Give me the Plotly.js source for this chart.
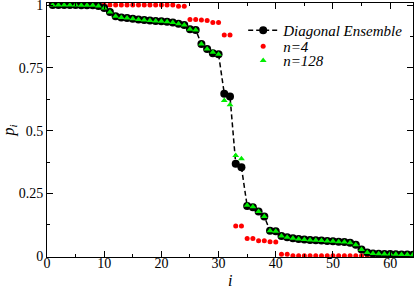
<!DOCTYPE html>
<html>
<head>
<meta charset="utf-8">
<script src="https://cdn.plot.ly/plotly-3.0.1.min.js"></script>
<style>
html,body{margin:0;padding:0;background:#fff;}
#chart{width:415px;height:288px;}
</style>
</head>
<body>
<div id="chart"></div>
<script>
var idx = [1,2,3,4,5,6,7,8,9,10,11,12,13,14,15,16,17,18,19,20,21,22,23,24,25,26,27,28,29,30,31,32,
           33,34,35,36,37,38,39,40,41,42,43,44,45,46,47,48,49,50,51,52,53,54,55,56,57,58,59,60,61,62,63,64];

var diagEns = [1.0,1.0,1.0,1.0,1.0,0.999,0.999,0.999,0.996,0.988,0.972,0.955,0.950,0.948,0.945,0.942,
               0.940,0.938,0.936,0.935,0.933,0.930,0.925,0.920,0.904,0.901,0.845,0.825,0.808,0.804,0.647,0.636,
               0.368,0.354,0.200,0.195,0.178,0.158,0.101,0.099,0.081,0.076,0.072,0.069,0.067,0.065,0.064,0.063,
               0.061,0.060,0.058,0.057,0.054,0.046,0.027,0.015,0.011,0.010,0.009,0.009,0.008,0.007,0.007,0.006];

var n4 = [1.0,1.0,1.0,1.0,1.0,1.0,1.0,1.0,1.0,1.0,1.0,1.0,1.0,1.0,1.0,1.0,
          1.0,1.0,1.0,1.0,1.0,1.0,0.995,0.995,0.942,0.942,0.940,0.938,0.930,0.930,0.881,0.881,
          0.120,0.120,0.071,0.071,0.062,0.062,0.058,0.057,0.008,0.008,0.002,0.002,0.002,0.002,0.002,0.002,
          0.002,0.002,0.002,0.002,0.002,0.002,0.002,0.002,0.002,0.002,0.002,0.002,0.002,0.002,0.002,0.002];

var n128 = [1.0,1.0,1.0,1.0,1.0,0.999,0.999,0.999,0.996,0.988,0.972,0.955,0.950,0.948,0.945,0.942,
            0.940,0.938,0.936,0.935,0.933,0.930,0.925,0.920,0.904,0.901,0.845,0.825,0.812,0.804,0.620,0.603,
            0.401,0.388,0.203,0.197,0.178,0.158,0.101,0.099,0.081,0.076,0.072,0.069,0.067,0.065,0.064,0.063,
            0.061,0.060,0.058,0.057,0.054,0.046,0.027,0.015,0.011,0.010,0.009,0.009,0.008,0.007,0.007,0.006];

var xTickVals = [0,10,20,30,40,50,60];
var yTickVals = [0,0.25,0.5,0.75,1];
var yTickText = ['0','0.25','0.5','0.75','1'];
var xTitle = '<i>i</i>';
var yTitle = '<i>p<sub>i</sub></i>';

var FAM = 'Liberation Serif';

var traces = [
  {x: idx, y: n4, type: 'scatter', mode: 'markers', name: '<i>n=4</i>',
   marker: {color: '#ff0000', size: 5}, legend: 'legend2'},
  {x: idx, y: diagEns, type: 'scatter', mode: 'lines+markers', name: '<i>Diagonal Ensemble</i>',
   line: {color: '#000000', width: 1.5, dash: '5px,3px'},
   marker: {color: '#000000', size: 8}, legend: 'legend'},
  {x: idx, y: n128, type: 'scatter', mode: 'markers', name: '<i>n=128</i>',
   marker: {color: '#00ee00', size: 6, symbol: 'triangle-up'}, legend: 'legend3'}
];

function leg(yv) {
  return {x: 0.536, y: yv, xref: 'paper', yref: 'paper', xanchor: 'left', yanchor: 'top',
    bgcolor: 'rgba(0,0,0,0)', borderwidth: 0, itemwidth: 30,
    font: {family: FAM, size: 15, color: '#000000'}};
}

var layout = {
  width: 415, height: 288,
  margin: {l: 47, r: 2, t: 3, b: 31},
  font: {family: FAM, size: 14, color: '#000000'},
  xaxis: {
    range: [0, 64], tickvals: xTickVals, ticks: 'inside', ticklen: 6, tickwidth: 1,
    tickcolor: '#000000', showline: true, linecolor: '#000000', linewidth: 1, mirror: 'allticks',
    showgrid: false, zeroline: false, ticklabelstandoff: -7,
    minor: {dtick: 5, tick0: 0, ticks: 'inside', ticklen: 3, tickcolor: '#000000', showgrid: false},
    tickfont: {family: FAM, size: 14, color: '#000000'}
  },
  yaxis: {
    range: [-0.003, 1.008], tickvals: yTickVals, ticktext: yTickText, ticks: 'inside', ticklen: 6,
    tickwidth: 1, tickcolor: '#000000', showline: true, linecolor: '#000000', linewidth: 1, mirror: 'allticks',
    showgrid: false, zeroline: false, ticklabeloverflow: 'allow',
    minor: {tickvals: [0.125,0.375,0.625,0.875], ticks: 'inside', ticklen: 3, tickcolor: '#000000', showgrid: false},
    tickfont: {family: FAM, size: 14, color: '#000000'},
    title: {text: yTitle, font: {family: FAM, size: 16, color: '#000000'}, standoff: 4}
  },
  annotations: [
    {text: xTitle, xref: 'paper', yref: 'paper', x: 0.5, y: -0.094, xanchor: 'center', yanchor: 'middle',
     showarrow: false, font: {family: FAM, size: 16, color: '#000000'}}
  ],
  showlegend: true,
  legend: leg(0.957),
  legend2: leg(0.894),
  legend3: leg(0.838)
};

Plotly.newPlot('chart', traces, layout, {displayModeBar: false, staticPlot: true});
</script>
</body>
</html>
